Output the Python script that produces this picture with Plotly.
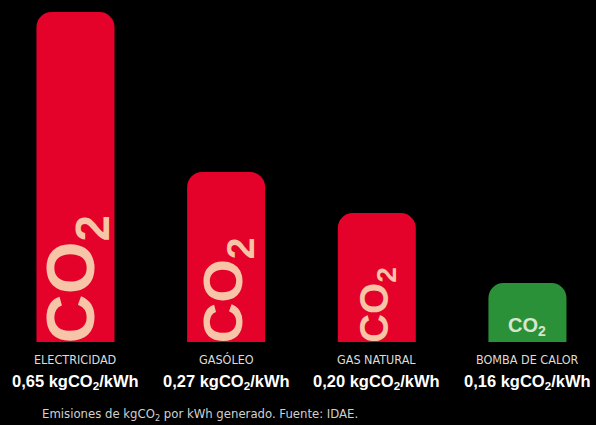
import plotly.graph_objects as go

categories = ["ELECTRICIDAD", "GASÓLEO", "GAS NATURAL", "BOMBA DE CALOR"]
emission_labels = ["0,65", "0,27", "0,20", "0,16"]
# illustrative bar heights as drawn in the graphic (arbitrary units)
bar_heights = [330, 170, 129, 59]
bar_colors = ["#e4022b", "#e4022b", "#e4022b", "#2b9139"]
co2_sizes = [68, 56, 40, 20]
caption = "Emisiones de kgCO<sub>2</sub> por kWh generado. Fuente: IDAE."

NARROW = "DejaVu Sans Condensed, Roboto, sans-serif"

x = list(range(len(categories)))

fig = go.Figure()
fig.add_trace(go.Bar(
    x=x, y=bar_heights, width=0.518,
    marker=dict(color=bar_colors, line=dict(width=0)),
    hoverinfo="skip", showlegend=False,
))

annotations = []
for i, cat in enumerate(categories):
    annotations.append(dict(
        x=i, y=0, xref="x", yref="y", text=cat, showarrow=False,
        yanchor="middle", yshift=-17,
        font=dict(family=NARROW, size=12.5, color="#dcdcdc"),
    ))
    annotations.append(dict(
        x=i, y=0, xref="x", yref="y",
        text="<b>" + emission_labels[i] + " kgCO<sub>2</sub>/kWh</b>",
        showarrow=False, yanchor="middle", yshift=-40,
        font=dict(family="Liberation Sans", size=16.5, color="#ffffff"),
    ))
    if i < 3:
        annotations.append(dict(
            x=i, y=0, xref="x", yref="y",
            text="<b>CO<sub>2</sub></b>", showarrow=False,
            textangle=-90, yanchor="bottom", xanchor="center", yshift=-3,
            font=dict(family="Liberation Sans", size=co2_sizes[i], color="#f6c4a6"),
        ))
    else:
        annotations.append(dict(
            x=i, y=0, xref="x", yref="y",
            text="<b>CO<sub>2</sub></b>", showarrow=False,
            yanchor="bottom", xanchor="center", yshift=1,
            font=dict(family="Liberation Sans", size=co2_sizes[i], color="#d6e6cf"),
        ))

annotations.append(dict(
    x=40 / 596, y=0, xref="paper", yref="paper", text=caption, showarrow=False,
    xanchor="left", yanchor="middle", yshift=-72,
    font=dict(family=NARROW, size=13, color="#d0d0d0"),
))

fig.update_layout(
    width=596, height=425,
    margin=dict(l=0, r=0, t=0, b=83),
    paper_bgcolor="#000000", plot_bgcolor="#000000",
    barcornerradius=15,
    xaxis=dict(range=[-0.501, 3.455], visible=False, fixedrange=True),
    yaxis=dict(range=[0, 342], visible=False, fixedrange=True),
    annotations=annotations,
)

fig.write_html("out.html", config={"displayModeBar": False})
